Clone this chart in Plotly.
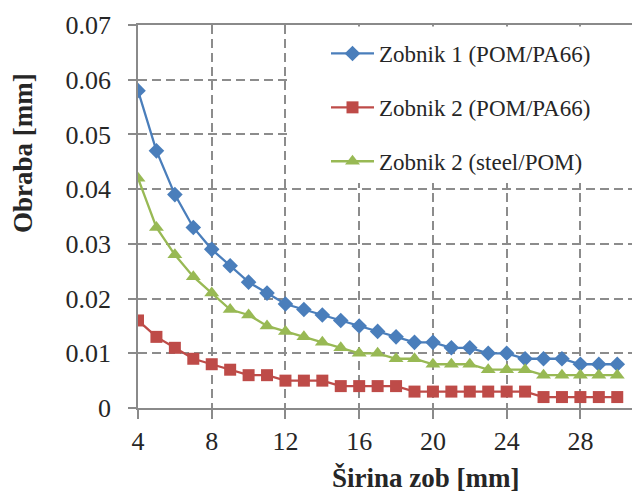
import plotly.graph_objects as go

width_mm = list(range(4, 31))
zobnik1_pom_pa66 = [0.058, 0.047, 0.039, 0.033, 0.029, 0.026, 0.023, 0.021, 0.019, 0.018,
                    0.017, 0.016, 0.015, 0.014, 0.013, 0.012, 0.012, 0.011, 0.011, 0.010,
                    0.010, 0.009, 0.009, 0.009, 0.008, 0.008, 0.008]
zobnik2_pom_pa66 = [0.016, 0.013, 0.011, 0.009, 0.008, 0.007, 0.006, 0.006, 0.005, 0.005,
                    0.005, 0.004, 0.004, 0.004, 0.004, 0.003, 0.003, 0.003, 0.003, 0.003,
                    0.003, 0.003, 0.002, 0.002, 0.002, 0.002, 0.002]
zobnik2_steel_pom = [0.042, 0.033, 0.028, 0.024, 0.021, 0.018, 0.017, 0.015, 0.014, 0.013,
                     0.012, 0.011, 0.010, 0.010, 0.009, 0.009, 0.008, 0.008, 0.008, 0.007,
                     0.007, 0.007, 0.006, 0.006, 0.006, 0.006, 0.006]
series_names = ["Zobnik 1 (POM/PA66)", "Zobnik 2 (POM/PA66)", "Zobnik 2 (steel/POM)"]
x_tick_vals = [4, 8, 12, 16, 20, 24, 28]
y_tick_vals = [0, 0.01, 0.02, 0.03, 0.04, 0.05, 0.06, 0.07]
y_tick_text = ["0", "0.01", "0.02", "0.03", "0.04", "0.05", "0.06", "0.07"]
x_title = "Širina zob [mm]"
y_title = "Obraba [mm]"

FONT = "Liberation Serif"
TXT = "#262626"
AX = "#8a8a8a"
GRID = "#8c8c8c"

# plot area in pixels (for placing titles / legend backdrop)
L, R, T, B = 138, 632, 25, 408
PW, PH = R - L, B - T

fig = go.Figure()
styles = [
    dict(color="#4A7EBB", symbol="diamond", size=12),
    dict(color="#BE4B48", symbol="square", size=12),
    dict(color="#98B954", symbol="triangle-up", size=13),
]
for i, (name, ys, st) in enumerate(zip(series_names,
                                       [zobnik1_pom_pa66, zobnik2_pom_pa66, zobnik2_steel_pom],
                                       styles)):
    fig.add_trace(go.Scatter(
        x=width_mm, y=ys, name=name, mode="lines+markers", legendgroup=f"g{i}",
        line=dict(color=st["color"], width=2.3),
        marker=dict(color=st["color"], symbol=st["symbol"], size=st["size"]),
    ))

fig.update_layout(
    width=636, height=494,
    margin=dict(l=L, r=636 - R, t=T, b=494 - B),
    paper_bgcolor="white", plot_bgcolor="white",
    showlegend=True,
    legend=dict(
        x=(326 - L) / PW, y=1 - 7 / PH, xanchor="left", yanchor="top",
        bgcolor="white", borderwidth=0,
        font=dict(family=FONT, size=23, color=TXT),
        tracegroupgap=21, entrywidth=300,
        itemwidth=43,
    ),
    shapes=[
        dict(type="rect", xref="paper", yref="paper", layer="above",
             x0=(290 - L) / PW, x1=1.0, y0=1 - (182 - T) / PH, y1=1 - 1.5 / PH,
             fillcolor="white", line=dict(width=0)),
    ],
    xaxis=dict(
        range=[4, 30.8], tickvals=x_tick_vals,
        showline=True, linecolor=AX, linewidth=1.6, mirror=True,
        ticks="outside", ticklen=9, tickcolor=AX, tickwidth=1.5,
        showgrid=True, gridcolor=GRID, gridwidth=1.6, griddash="9px,5px",
        zeroline=False, tickfont=dict(size=26, family=FONT, color=TXT),
    ),
    yaxis=dict(
        range=[0, 0.07], tickvals=y_tick_vals, ticktext=y_tick_text,
        showline=True, linecolor=AX, linewidth=1.6,
        ticks="outside", ticklen=8, tickcolor=AX, tickwidth=1.5,
        showgrid=True, gridcolor=GRID, gridwidth=1.6, griddash="9px,5px",
        zeroline=False, tickfont=dict(size=26, family=FONT, color=TXT),
        ticklabelstandoff=12,
    ),
    annotations=[
        dict(text=f"<b>{x_title}</b>", xref="paper", yref="paper",
             x=(425 - L) / PW, y=-(478 - B) / PH, xanchor="center", yanchor="middle",
             showarrow=False, font=dict(family=FONT, size=27, color=TXT)),
        dict(text=f"<b>{y_title}</b>", xref="paper", yref="paper", textangle=-90,
             x=(23 - L) / PW, y=(B - 153) / PH, xanchor="center", yanchor="middle",
             showarrow=False, font=dict(family=FONT, size=27, color=TXT)),
    ],
)

fig.write_html("out.html")
